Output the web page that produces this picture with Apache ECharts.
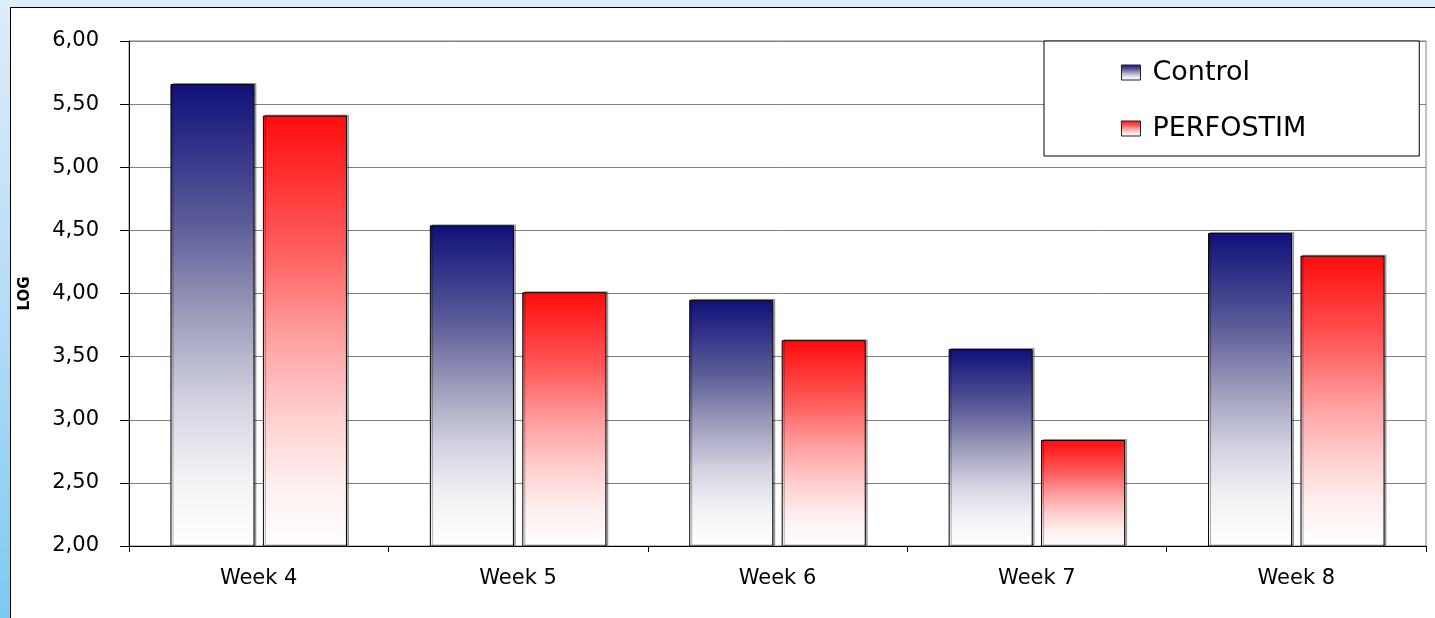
<!DOCTYPE html>
<html>
<head>
<meta charset="utf-8">
<script src="https://cdn.jsdelivr.net/npm/echarts@6/dist/echarts.min.js"></script>
<style>
  html, body { margin: 0; padding: 0; width: 1435px; height: 618px; overflow: hidden; }
  body { background: linear-gradient(to bottom, #dcedfb 0%, #b5dcf8 50%, #7ccaf2 100%); position: relative; }
  #panel { position: absolute; left: 10px; top: 7px; right: 0; bottom: 0; background: #fff; border-left: 1px solid #000; border-top: 1px solid #000; }
  #chart { position: absolute; left: 0; top: 0; width: 1435px; height: 618px; }
</style>
</head>
<body>
<div id="panel"></div>
<div id="chart"></div>
<script>
const categories = ['Week 4', 'Week 5', 'Week 6', 'Week 7', 'Week 8'];
const controlValues = [5.66, 4.54, 3.95, 3.56, 4.48];
const perfostimValues = [5.41, 4.01, 3.63, 2.84, 4.30];
const seriesNames = ['Control', 'PERFOSTIM'];
const yMin = 2, yMax = 6, yStep = 0.5;
const yAxisName = 'LOG';

const chart = echarts.init(document.getElementById('chart'), null, { renderer: 'canvas' });

function grad(stops) {
  return new echarts.graphic.LinearGradient(0, 0, 0, 1, stops.map(s => ({ offset: s[0], color: s[1] })));
}
const blueGrad = grad([[0, '#10107a'], [0.3, '#5c5c98'], [0.5, '#9c9cba'], [0.7, '#d6d6e3'], [0.85, '#f2f2f6'], [1, '#ffffff']]);
const redGrad = grad([[0, '#ff0c0c'], [0.3, '#ff5a5a'], [0.5, '#ff9c9c'], [0.7, '#ffd0d0'], [0.85, '#ffeeee'], [1, '#ffffff']]);

const fontFam = 'DejaVu Sans';

chart.setOption({
  animation: false,
  backgroundColor: 'transparent',
  grid: {
    left: 129, right: 9, top: 41, bottom: 72,
    show: true, borderColor: '#808080', borderWidth: 1, backgroundColor: 'transparent'
  },
  legend: {
    data: seriesNames,
    orient: 'vertical',
    left: 1044, top: 41,
    padding: [18, 113, 14, 77],
    itemGap: 29,
    itemWidth: 19, itemHeight: 15,
    icon: 'rect',
    backgroundColor: '#fff',
    borderColor: '#000', borderWidth: 1,
    itemStyle: { borderColor: '#222', borderWidth: 1 },
    textStyle: { fontFamily: fontFam, fontSize: 27, color: '#000', padding: [0, 0, 0, 7] }
  },
  xAxis: {
    type: 'category',
    data: categories,
    axisLine: { lineStyle: { color: '#000', width: 1 } },
    axisTick: { show: true, length: 6, alignWithLabel: false, lineStyle: { color: '#000' } },
    axisLabel: { fontFamily: fontFam, fontSize: 21, color: '#000', margin: 22 },
    splitLine: { show: false }
  },
  yAxis: {
    type: 'value',
    min: yMin, max: yMax, interval: yStep,
    name: yAxisName,
    nameLocation: 'middle',
    nameRotate: 90,
    nameGap: 96,
    nameTextStyle: { fontFamily: fontFam, fontSize: 15, fontWeight: 'bold', color: '#000' },
    axisLine: { show: true, lineStyle: { color: '#000', width: 1 } },
    axisTick: { show: true, length: 9, lineStyle: { color: '#000' } },
    axisLabel: {
      fontFamily: fontFam, fontSize: 21, color: '#000', margin: 30,
      formatter: v => v.toFixed(2).replace('.', ',')
    },
    splitLine: { show: true, lineStyle: { color: '#808080', width: 1 } }
  },
  series: [
    {
      name: seriesNames[0], type: 'bar', data: controlValues,
      barWidth: '32.4%', barGap: '10%',
      itemStyle: { color: blueGrad, borderColor: '#000', borderWidth: 1,
        shadowColor: 'rgba(0,0,0,0.3)', shadowOffsetX: 2, shadowOffsetY: -1, shadowBlur: 0 }
    },
    {
      name: seriesNames[1], type: 'bar', data: perfostimValues,
      barWidth: '32.4%', barGap: '10%',
      itemStyle: { color: redGrad, borderColor: '#000', borderWidth: 1,
        shadowColor: 'rgba(0,0,0,0.3)', shadowOffsetX: 2, shadowOffsetY: -1, shadowBlur: 0 }
    }
  ]
});
</script>
</body>
</html>
